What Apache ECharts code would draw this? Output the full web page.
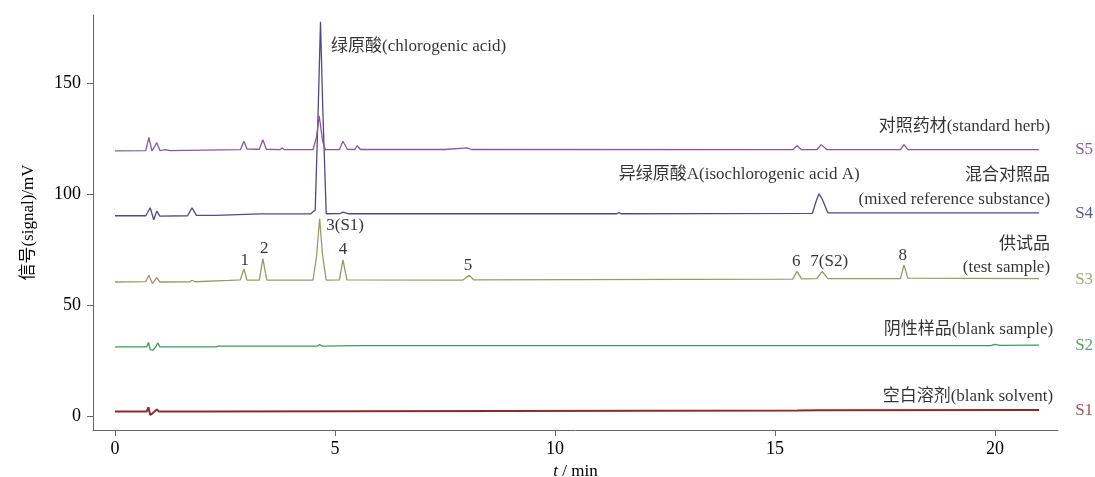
<!DOCTYPE html>
<html>
<head>
<meta charset="utf-8">
<script src="https://cdn.jsdelivr.net/npm/echarts@6/dist/echarts.min.js"></script>
<style>
  html, body { margin: 0; padding: 0; background: #fff; }
  #main { width: 1095px; height: 477px; }
</style>
</head>
<body>
<div id="main"></div>
<script>
// chromatogram traces, [t(min), signal(mV)]
var s5Data = [[0,119.7],[0.7,119.8],[0.77,125.8],[0.84,119.6],[0.88,118.9],[0.95,123.4],[1.02,119.8],[1.15,120.2],[1.25,119.8],[2.0,120],[2.85,120.2],[2.93,124],[3.0,120.5],[3.28,120.4],[3.36,124.7],[3.44,120.4],[3.75,120.2],[3.8,121],[3.85,120.2],[4.5,120.2],[4.58,126],[4.64,135.5],[4.72,124],[4.78,120.2],[5.1,120.3],[5.18,124],[5.28,120.4],[5.45,120.3],[5.5,122],[5.58,120.3],[7.5,120.3],[8.0,121],[8.1,120.3],[15.4,120.2],[15.5,122],[15.6,120.2],[15.95,120.2],[16.05,122.5],[16.18,120.2],[17.85,120.2],[17.93,122.5],[18.02,120.2],[21.0,120.2]];
var s4Data = [[0,90.4],[0.7,90.4],[0.8,94],[0.88,88.6],[0.95,92.5],[1.02,90.2],[1.65,90.4],[1.75,94],[1.85,90.6],[2.3,90.6],[3.3,91.2],[4.45,91.3],[4.55,93],[4.62,140],[4.67,178],[4.72,140],[4.8,91.3],[5.12,91.4],[5.18,92],[5.3,91.3],[11.4,91.3],[11.45,91.8],[11.5,91.3],[15.85,91.5],[15.95,98],[16.0,100.3],[16.07,98],[16.2,91.7],[21,91.7]];
var s3Data = [[0,60.5],[0.7,60.7],[0.77,63.5],[0.85,59.8],[0.95,62.5],[1.02,60.5],[1.7,60.6],[1.75,61.3],[1.82,60.6],[2.6,61.2],[2.85,61.5],[2.93,66.4],[3.0,61.3],[3.28,61.3],[3.36,71],[3.45,61.3],[4.5,61.3],[4.58,72],[4.65,89],[4.72,72],[4.8,61.3],[5.1,61.5],[5.18,70.5],[5.27,61.5],[7.9,61.3],[8.05,63.5],[8.15,61.5],[15.4,61.8],[15.5,65.3],[15.6,61.9],[15.95,62],[16.07,65.3],[16.2,62],[17.85,62],[17.93,68.2],[18.02,62.2],[21,62]];
var s2Data = [[0,31.2],[0.72,31.2],[0.76,33.2],[0.8,30],[0.86,29.8],[0.92,31],[0.97,33],[1.02,31.2],[2.3,31.2],[2.35,31.6],[4.6,31.6],[4.65,32.3],[4.7,31.6],[5.5,31.8],[19.9,31.8],[20,32.3],[20.1,31.9],[21,32]];
var s1Data = [[0,2],[0.72,2],[0.76,4],[0.8,0.5],[0.85,1.2],[0.88,0.5],[0.95,3],[1.0,2],[2.05,2],[2.07,2.4],[15.5,2.5],[16,2.6],[21,2.7]];

var seriesNames = ['S5', 'S4', 'S3', 'S2', 'S1'];
var lineColors = ['#8c55a4', '#4d4b85', '#9a9a66', '#3f9a5c', '#8b2a2a'];
var tagColors = ['#6a2f86', '#2f3566', '#8f8f5a', '#2e8b4a', '#8b2525'];
var tagT = [21.82, 21.82, 21.82, 21.82, 21.82];
var tagV = [120.3, 91.3, 61.6, 31.8, 2.7];

var xTicks = [0, 5, 10, 15, 20];
var yTicks = [0, 50, 100, 150];

// annotation texts and their anchor (t, signal)
var annoText = ['绿原酸(chlorogenic acid)', '对照药材(standard herb)', '异绿原酸A(isochlorogenic acid A)', '混合对照品', '(mixed reference substance)', '3(S1)', '1', '2', '4', '5', '供试品', '(test sample)', '6', '7(S2)', '8', '阴性样品(blank sample)', '空白溶剂(blank solvent)'];
var annoT = [4.91, 21.25, 11.45, 21.25, 21.25, 4.8, 2.95, 3.39, 5.18, 8.02, 21.25, 21.25, 15.48, 15.8, 17.9, 21.32, 21.32];
var annoV = [166.7, 130.6, 108.9, 108.4, 97.6, 85.9, 70, 75.5, 75, 67.8, 77.3, 66.9, 69.6, 69.6, 72.3, 38.9, 8.6];
var annoAlign = ['left', 'right', 'left', 'right', 'right', 'left', 'center', 'center', 'center', 'center', 'right', 'right', 'center', 'left', 'center', 'right', 'right'];

var fontFam = "'Liberation Serif', 'Noto Sans CJK SC', serif";
var textColor = '#000';
var traces = [s5Data, s4Data, s3Data, s2Data, s1Data];

var chart = echarts.init(document.getElementById('main'));

var series = [];
for (var i = 0; i < traces.length; i++) {
    series.push({
        name: seriesNames[i],
        type: 'line',
        data: traces[i],
        symbol: 'none',
        z: 10 - i,
        lineStyle: { color: lineColors[i], width: i === 4 ? 2 : 1.3 },
        animation: false
    });
}

series.push({
    type: 'scatter',
    symbolSize: 0,
    clip: false,
    silent: true,
    animation: false,
    data: annoText.map(function (txt, k) {
        return {
            value: [annoT[k], annoV[k]],
            name: txt,
            label: { align: annoAlign[k] }
        };
    }),
    label: {
        show: true,
        position: 'inside',
        verticalAlign: 'middle',
        formatter: '{b}',
        color: textColor,
        fontSize: 17,
        fontFamily: fontFam
    }
});

series.push({
    type: 'scatter',
    symbolSize: 0,
    clip: false,
    silent: true,
    animation: false,
    data: seriesNames.map(function (n, k) {
        return {
            value: [tagT[k], tagV[k]],
            name: n,
            label: { color: tagColors[k] }
        };
    }),
    label: {
        show: true,
        position: 'inside',
        align: 'left',
        verticalAlign: 'middle',
        formatter: '{b}',
        fontSize: 17,
        fontFamily: fontFam
    }
});

var axisColor = '#666';

var option = {
    backgroundColor: '#fff',
    animation: false,
    grid: { left: 93, right: 37, top: 15, bottom: 47, outerBoundsMode: 'none', containLabel: false },
    xAxis: {
        type: 'value',
        min: -0.5,
        max: 21.43,
        name: '{i|t} / min',
        nameLocation: 'middle',
        nameGap: 28,
        nameTextStyle: {
            color: textColor, fontSize: 17, fontFamily: fontFam,
            rich: { i: { fontStyle: 'italic', fontSize: 17, fontFamily: fontFam, color: textColor } }
        },
        axisLine: { onZero: false, lineStyle: { color: axisColor, width: 1 } },
        axisTick: { customValues: xTicks, length: 6, lineStyle: { color: axisColor } },
        axisLabel: { customValues: xTicks, color: textColor, fontSize: 18, fontFamily: fontFam, margin: 10 },
        splitLine: { show: false }
    },
    yAxis: {
        type: 'value',
        min: -6.3,
        max: 181,
        name: '信号(signal)/mV',
        nameLocation: 'middle',
        nameGap: 56,
        nameTextStyle: { color: textColor, fontSize: 17, fontFamily: fontFam },
        axisLine: { show: true, onZero: false, lineStyle: { color: axisColor, width: 1 } },
        axisTick: { show: true, customValues: yTicks, length: 6, lineStyle: { color: axisColor } },
        axisLabel: { customValues: yTicks, color: textColor, fontSize: 18, fontFamily: fontFam, margin: 12 },
        splitLine: { show: false }
    },
    series: series
};

chart.setOption(option);
</script>
</body>
</html>
